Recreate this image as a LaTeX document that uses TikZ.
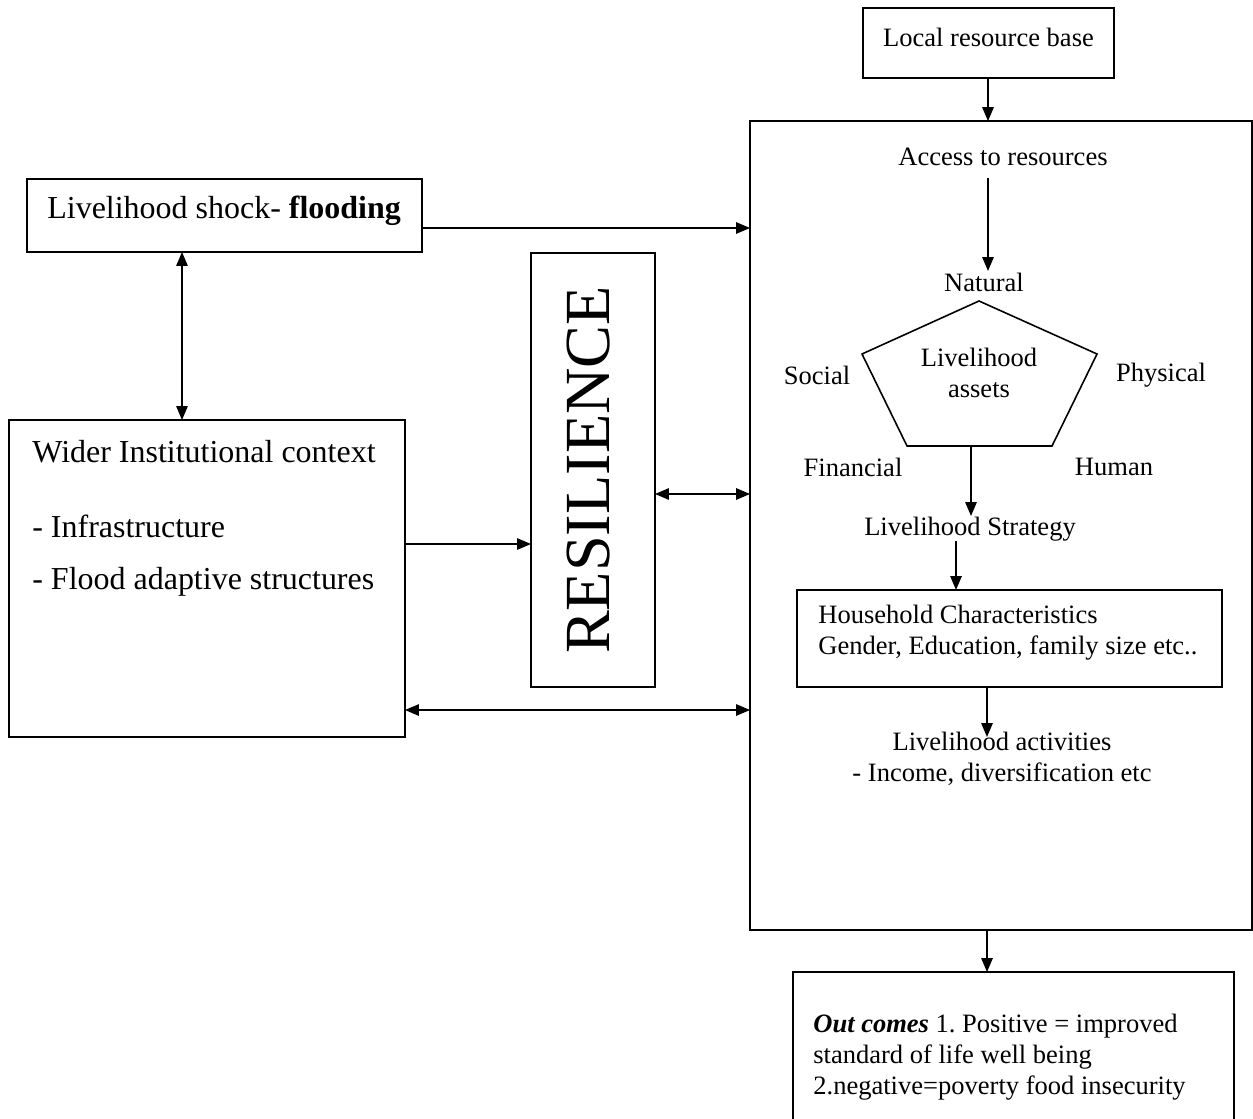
\documentclass[tikz,border=0pt]{standalone}
\usepackage{fontspec}
\setmainfont{Liberation Serif}
\usetikzlibrary{arrows.meta}
\begin{document}
\begin{tikzpicture}[x=0.02cm,y=-0.02cm,
  boxnode/.style={draw, line width=0.9pt, inner sep=0pt, outer sep=0pt},
  lefttext/.style={inner sep=0pt, anchor=west, font=\fontsize{18.2}{21}\selectfont},
  righttext/.style={inner sep=0pt, font=\fontsize{15.1}{17.6}\selectfont},
  arr/.style={line width=0.8pt, -{Triangle[length=0.28cm,width=0.23cm]}},
  darr/.style={line width=0.8pt, {Triangle[length=0.28cm,width=0.23cm]}-{Triangle[length=0.28cm,width=0.23cm]}}]
\useasboundingbox (0,0) rectangle (1253,1118);
\clip (0,0) rectangle (1253,1118);

% boxes
\node[boxnode, minimum width=5.02cm, minimum height=1.4cm] (local) at (988.5,43) {};
\node[boxnode, minimum width=10.04cm, minimum height=16.18cm] (big) at (1001,525.5) {};
\node[boxnode, minimum width=7.9cm, minimum height=1.46cm] (shock) at (224.5,215.5) {};
\node[boxnode, minimum width=7.92cm, minimum height=6.34cm] (wider) at (207,578.5) {};
\node[boxnode, minimum width=2.48cm, minimum height=8.68cm] (resil) at (593,470) {};
\node[boxnode, minimum width=8.5cm, minimum height=1.94cm] (house) at (1009.5,638.5) {};
\node[boxnode, minimum width=8.82cm, minimum height=3.16cm] (outc) at (1013.5,1051) {};

% pentagon
\coordinate (p1) at (979,301);
\coordinate (p2) at (1097,354);
\coordinate (p3) at (1052,446);
\coordinate (p4) at (907,446);
\coordinate (p5) at (862,354);
\draw[line width=0.9pt, line join=miter] (p1) -- (p2) -- (p3) -- (p4) -- (p5) -- cycle;
\coordinate (pb) at (971,446);

% left texts
\node[lefttext] (shockt) at (47,211) {Livelihood shock- \textbf{flooding}};
\node[lefttext] (widert) at (32,452) {Wider Institutional context};
\node[lefttext] (infra) at (32,526) {- Infrastructure};
\node[lefttext] (flood) at (32,582) {- Flood adaptive structures};
\node[inner sep=0pt, rotate=90, font=\fontsize{36.6}{40}\selectfont] (resilt) at (589,470) {RESILIENCE};

% right texts
\node[righttext] (localt) at (988.5,37) {Local resource base};
\node[righttext] (acc) at (1003,157) {Access to resources};
\node[righttext] (natural) at (984,282) {Natural};
\node[righttext, align=center] (assets) at (979,373) {Livelihood\\assets};
\node[righttext] (social) at (817,375) {Social};
\node[righttext] (physical) at (1161,375) {Physical};
\node[righttext] (financial) at (853,467) {Financial};
\node[righttext] (human) at (1114,467) {Human};
\node[righttext] (strategy) at (970,529) {Livelihood Strategy};
\node[righttext, anchor=west, align=left] (houset) at (818,632.5) {Household Characteristics\\Gender, Education, family size etc..};
\node[righttext, align=center] (activ) at (1002,758.5) {Livelihood activities\\- Income, diversification etc};
\node[righttext, anchor=west, align=left] (outct) at (813,1057) {\textbf{\textit{Out comes}} 1.\ Positive = improved\\standard of life well being\\2.negative=poverty food insecurity};

% helper coordinates
\coordinate (xa) at (988,0);
\coordinate (xv) at (182,0);
\coordinate (xs) at (956,0);
\coordinate (xh) at (987,0);
\coordinate (y228) at (0,228);
\coordinate (y544) at (0,544);
\coordinate (y494) at (0,494);
\coordinate (y710) at (0,710);
\coordinate (accend) at (988,178);
\coordinate (natend) at (988,271);
\coordinate (stratend) at (971,516);
\coordinate (activend) at (987,737);

% connectors
\draw[arr] (local.south -| xa) -- (big.north -| xa);
\draw[arr] (accend) -- (natend);
\draw[arr] (pb) -- (stratend);
\draw[arr] (strategy.south -| xs) -- (house.north -| xs);
\draw[arr] (house.south -| xh) -- (activend);
\draw[arr] (big.south -| xh) -- (outc.north -| xh);
\draw[arr] (shock.east |- y228) -- (big.west |- y228);
\draw[darr] (shock.south -| xv) -- (wider.north -| xv);
\draw[arr] (wider.east |- y544) -- (resil.west |- y544);
\draw[darr] (resil.east |- y494) -- (big.west |- y494);
\draw[darr] (wider.east |- y710) -- (big.west |- y710);
\end{tikzpicture}
\end{document}
